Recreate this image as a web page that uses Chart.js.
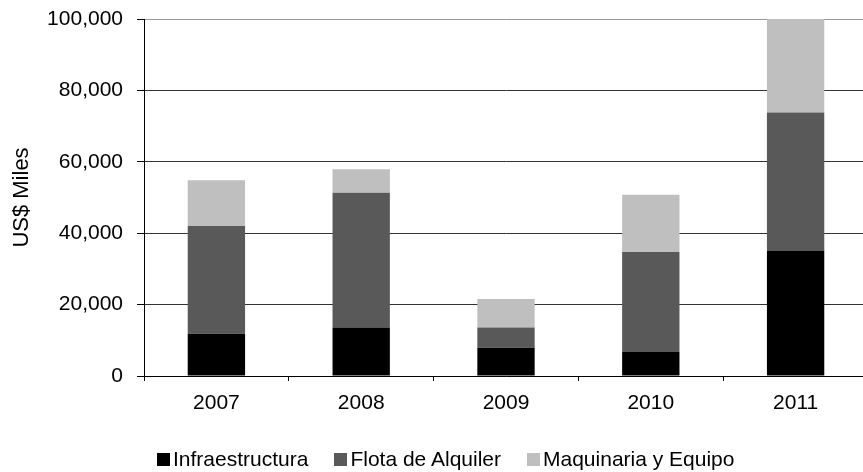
<!DOCTYPE html>
<html>
<head>
<meta charset="utf-8">
<script src="https://cdn.jsdelivr.net/npm/chart.js@4"></script>
<style>
  html, body { margin: 0; padding: 0; background: #fff; overflow: hidden; }
  #wrap { position: relative; width: 870px; height: 472px; }
  #legend {
    position: absolute; left: 157px; top: 447px;
    display: flex; gap: 26px;
    font-family: "Liberation Sans", Arial, sans-serif; font-size: 21px; line-height: 24px; color: #000;
  }
  #legend span.item { display: flex; align-items: baseline; white-space: nowrap; }
  #legend span.box { display: inline-block; width: 13px; height: 13px; margin-right: 3px; }
</style>
</head>
<body>
<div id="wrap">
  <canvas id="chart" width="870" height="472"></canvas>
  <div id="legend"></div>
</div>

<script>
// values in US$ miles
const years = ['2007', '2008', '2009', '2010', '2011'];
const infraestructura = [11800, 13600, 7900, 6700, 35000];
const flotaAlquiler = [30200, 37700, 5700, 28000, 38800];
const maquinaria = [12800, 6600, 8000, 16100, 26200];
const seriesNames = ['Infraestructura', 'Flota de Alquiler', 'Maquinaria y Equipo'];
const seriesColors = ['#000000', '#595959', '#bfbfbf'];

const fontFamily = '"Liberation Sans", Arial, sans-serif';

const ctx = document.getElementById('chart').getContext('2d');
const chart = new Chart(ctx, {
    type: 'bar',
    data: {
        labels: years,
        datasets: [infraestructura, flotaAlquiler, maquinaria].map(function (values, i) {
            return {
                label: seriesNames[i],
                data: values,
                backgroundColor: seriesColors[i],
                borderWidth: 0,
                categoryPercentage: 1,
                barPercentage: 0.396
            };
        })
    },
    options: {
        responsive: false,
        animation: false,
        devicePixelRatio: 1,
        layout: { autoPadding: false, padding: { top: 19, right: 2, bottom: 0, left: 0 } },
        plugins: {
            legend: { display: false },
            tooltip: { enabled: false }
        },
        scales: {
            x: {
                stacked: true,
                grid: { drawOnChartArea: false, drawTicks: true, tickLength: 5, color: '#000' },
                border: { display: true, color: '#000', width: 1 },
                ticks: { color: '#000', padding: 10, font: { family: fontFamily, size: 21 } },
                afterFit: function (scale) { scale.height = 96; }
            },
            y: {
                stacked: true,
                min: 0,
                max: 100000,
                grid: {
                    color: function (c) { return c.tick && c.tick.value === 100000 ? '#9a9a9a' : '#333333'; },
                    tickColor: '#000',
                    tickLength: 7
                },
                border: { display: true, color: '#000', width: 1 },
                ticks: {
                    stepSize: 20000,
                    color: '#000',
                    padding: 14,
                    font: { family: fontFamily, size: 21 },
                    callback: function (v) { return v.toLocaleString('en-US'); }
                },
                title: {
                    display: true,
                    text: 'US$ Miles',
                    color: '#000',
                    padding: { top: 9, bottom: 0 },
                    font: { family: fontFamily, size: 22 }
                },
                afterFit: function (scale) {
                    scale.width = 144;
                    scale.paddingTop = 0;
                    scale.paddingBottom = 0;
                }
            }
        }
    }
});

// legend built from the datasets
const legendEl = document.getElementById('legend');
chart.data.datasets.forEach(function (ds) {
    const item = document.createElement('span');
    item.className = 'item';
    const box = document.createElement('span');
    box.className = 'box';
    box.style.background = ds.backgroundColor;
    item.appendChild(box);
    item.appendChild(document.createTextNode(ds.label));
    legendEl.appendChild(item);
});
</script>
</body>
</html>
